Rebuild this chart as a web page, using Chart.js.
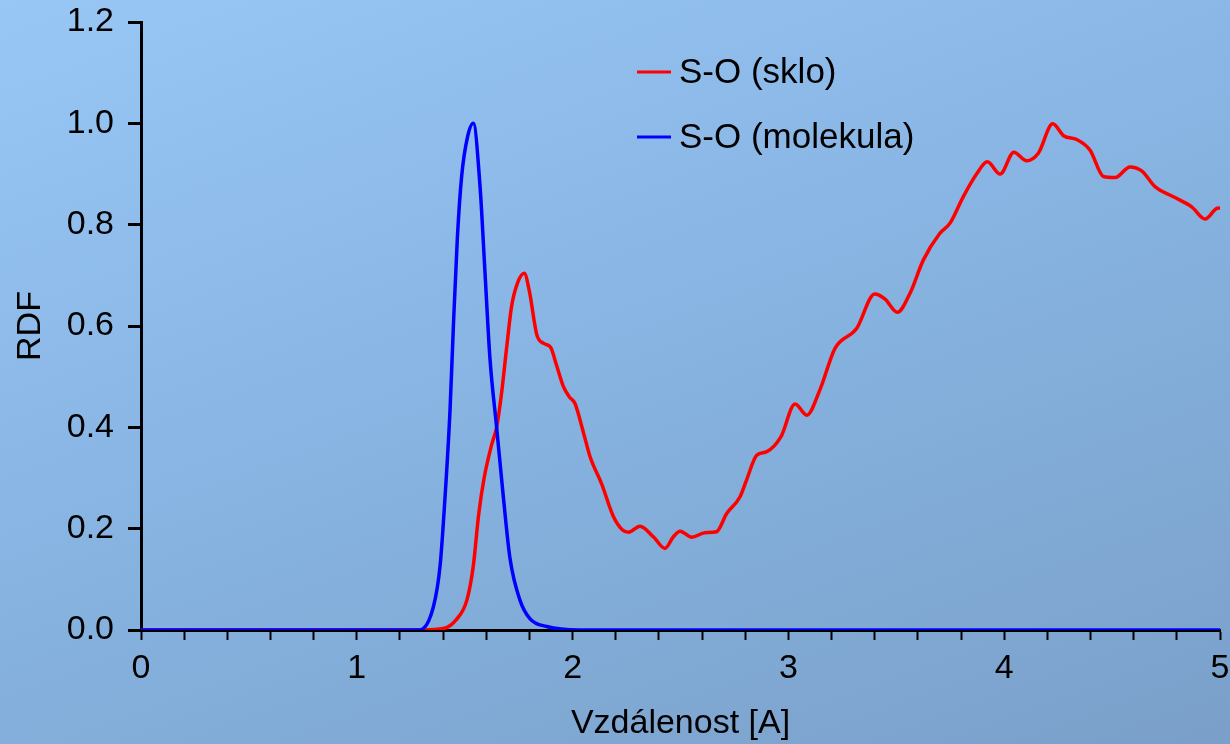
<!DOCTYPE html>
<html>
<head>
<meta charset="utf-8">
<script src="https://cdn.jsdelivr.net/npm/chart.js@4.4.1/dist/chart.umd.min.js"></script>
<style>
  html, body { margin: 0; padding: 0; }
  body {
    width: 1230px; height: 744px; overflow: hidden;
    background: linear-gradient(160deg, #99c7f5 0%, #88b5e3 45%, #7aa0c9 100%);
  }
  #wrap { position: relative; width: 1230px; height: 744px; }
</style>
</head>
<body>
<div id="wrap"><canvas id="c" width="1230" height="744"></canvas></div>
<script>
// ---- data ----
const seriesNames = ["S-O (sklo)", "S-O (molekula)"];

const skloX = [0, 1.26, 1.40, 1.46, 1.51, 1.54, 1.565, 1.59, 1.625, 1.648, 1.671, 1.694, 1.717, 1.745, 1.776,
  1.80, 1.834, 1.864, 1.898, 1.926, 1.957, 1.985, 2.011, 2.05, 2.081, 2.135, 2.189, 2.23, 2.26, 2.312,
  2.374, 2.428, 2.467, 2.498, 2.552, 2.613, 2.667, 2.714, 2.776, 2.806, 2.853, 2.90, 2.965, 3.031,
  3.085, 3.146, 3.216, 3.316, 3.40, 3.448, 3.505, 3.563, 3.625, 3.702, 3.749, 3.810, 3.872, 3.922,
  3.981, 4.045, 4.104, 4.158, 4.225, 4.277, 4.336, 4.398, 4.460, 4.514, 4.583, 4.637, 4.699, 4.784,
  4.869, 4.931, 4.985, 5.0];
const skloY = [0, 0, 0.003, 0.02, 0.059, 0.127, 0.229, 0.30, 0.366, 0.40, 0.468, 0.556, 0.638, 0.685, 0.704,
  0.668, 0.583, 0.566, 0.558, 0.522, 0.481, 0.46, 0.447, 0.39, 0.342, 0.288, 0.224, 0.198, 0.193, 0.205,
  0.184, 0.161, 0.184, 0.195, 0.183, 0.192, 0.194, 0.230, 0.263, 0.296, 0.345, 0.352, 0.381, 0.446,
  0.424, 0.474, 0.556, 0.595, 0.663, 0.653, 0.627, 0.664, 0.730, 0.783, 0.803, 0.855, 0.900, 0.924,
  0.900, 0.943, 0.926, 0.941, 0.999, 0.975, 0.968, 0.947, 0.895, 0.893, 0.914, 0.906, 0.875, 0.855,
  0.835, 0.811, 0.832, 0.833];

const molekulaX = [0, 1.29, 1.355, 1.386, 1.409, 1.432, 1.448, 1.466, 1.486, 1.512, 1.54, 1.571, 1.594,
  1.617, 1.648, 1.679, 1.71, 1.756, 1.803, 1.88, 2.03, 5.0];
const molekulaY = [0, 0, 0.046, 0.127, 0.263, 0.434, 0.604, 0.774, 0.896, 0.971, 1.0, 0.876, 0.706,
  0.536, 0.40, 0.263, 0.141, 0.059, 0.022, 0.007, 0, 0];

const xTickLabels = ["0", "1", "2", "3", "4", "5"];
const yTickLabels = ["0.0", "0.2", "0.4", "0.6", "0.8", "1.0", "1.2"];
const seriesColors = ["#ff0000", "#0000ff"];

// ---- chart ----
const FONT = "'Liberation Sans', Arial, sans-serif";
const toPoints = (xs, ys) => xs.map((x, i) => ({ x: x, y: ys[i] }));

const legendPlugin = {
  id: 'insideLegend',
  afterDraw(chart) {
    const ctx = chart.ctx;
    const items = [
      { y: 72, ds: chart.data.datasets[0] },
      { y: 137, ds: chart.data.datasets[1] }
    ];
    ctx.save();
    ctx.font = "35px " + FONT;
    ctx.textBaseline = 'middle';
    ctx.textAlign = 'left';
    items.forEach(it => {
      ctx.strokeStyle = it.ds.borderColor;
      ctx.lineWidth = 3;
      ctx.beginPath();
      ctx.moveTo(637, it.y);
      ctx.lineTo(671, it.y);
      ctx.stroke();
      ctx.fillStyle = '#000';
      ctx.fillText(it.ds.label, 679, it.y + 1);
    });
    ctx.restore();
  }
};

new Chart(document.getElementById('c'), {
  type: 'line',
  data: {
    datasets: [
      {
        label: seriesNames[0],
        data: toPoints(skloX, skloY),
        borderColor: seriesColors[0],
        borderWidth: 3.5,
        pointRadius: 0,
        cubicInterpolationMode: 'monotone',
        fill: false,
        order: 2
      },
      {
        label: seriesNames[1],
        data: toPoints(molekulaX, molekulaY),
        borderColor: seriesColors[1],
        borderWidth: 3.5,
        pointRadius: 0,
        cubicInterpolationMode: 'monotone',
        fill: false,
        order: 1
      }
    ]
  },
  options: {
    responsive: false,
    animation: false,
    events: [],
    layout: { padding: { top: 22, right: 10, left: 0, bottom: 0 } },
    plugins: {
      legend: { display: false },
      tooltip: { enabled: false }
    },
    scales: {
      x: {
        type: 'linear',
        min: 0, max: 5,
        afterFit(scale) {
          scale.height = 114;
          scale.paddingLeft = 0; scale.paddingRight = 0;
        },
        ticks: {
          stepSize: 0.2,
          autoSkip: false,
          maxRotation: 0,
          padding: 8,
          color: '#000',
          font: { family: FONT, size: 34 },
          callback(v) {
            const r = Math.round(v * 1000) / 1000;
            return Number.isInteger(r) ? xTickLabels[r] : '';
          }
        },
        grid: {
          display: true,
          drawOnChartArea: false,
          drawTicks: true,
          tickLength: 10,
          tickColor: '#000',
          tickWidth: 2
        },
        border: { display: true, color: '#000', width: 3 },
        title: {
          display: true,
          text: 'Vzdálenost [A]',
          color: '#000',
          font: { family: FONT, size: 34 },
          padding: { top: 0, bottom: 0 }
        }
      },
      y: {
        type: 'linear',
        min: 0, max: 1.2,
        afterFit(scale) {
          scale.width = 141;
          scale.paddingTop = 0; scale.paddingBottom = 0;
        },
        ticks: {
          stepSize: 0.2,
          autoSkip: false,
          padding: 14,
          color: '#000',
          font: { family: FONT, size: 34 },
          callback(v) {
            const i = Math.round(v / 0.2);
            return yTickLabels[i];
          }
        },
        grid: {
          display: true,
          drawOnChartArea: false,
          drawTicks: true,
          tickLength: 13,
          tickColor: '#000',
          tickWidth: 3
        },
        border: { display: true, color: '#000', width: 3 },
        title: {
          display: true,
          text: 'RDF',
          color: '#000',
          font: { family: FONT, size: 34 },
          padding: { top: 10, bottom: 0 }
        }
      }
    }
  },
  plugins: [legendPlugin]
});
</script>
</body>
</html>
